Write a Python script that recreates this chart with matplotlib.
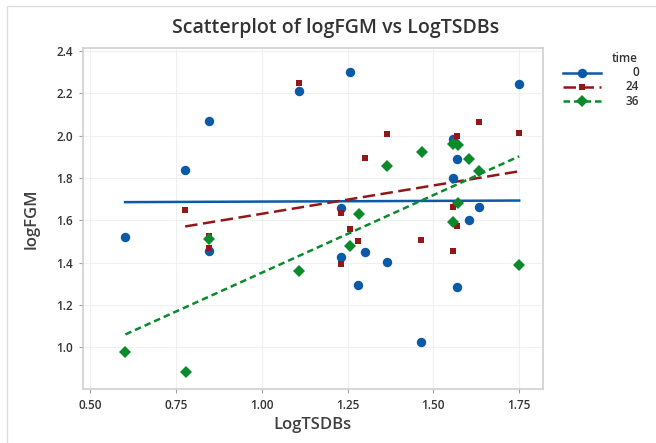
import numpy as np
import matplotlib
matplotlib.use("Agg")
import matplotlib.pyplot as plt
from matplotlib.lines import Line2D
from matplotlib.ticker import FormatStrFormatter

plt.rcParams['font.family'] = ['Open Sans', 'DejaVu Sans']

# time = 0
x0 = [0.602, 0.777, 0.845, 0.845, 1.11, 1.23, 1.23, 1.257, 1.28, 1.30,
      1.364, 1.464, 1.556, 1.556, 1.57, 1.57, 1.603, 1.633, 1.75]
y0 = [1.523, 1.838, 2.070, 1.454, 2.212, 1.657, 1.427, 2.300, 1.296, 1.449,
      1.405, 1.025, 1.985, 1.800, 1.892, 1.285, 1.600, 1.665, 2.245]
# time = 24
x24 = [0.777, 0.845, 0.845, 1.11, 1.23, 1.23, 1.257, 1.28, 1.30, 1.364,
       1.464, 1.556, 1.556, 1.57, 1.57, 1.633, 1.75]
y24 = [1.648, 1.528, 1.471, 2.248, 1.634, 1.394, 1.558, 1.503, 1.894, 2.007,
       1.507, 1.665, 1.454, 2.000, 1.574, 2.065, 2.012]
# time = 36
x36 = [0.603, 0.779, 0.845, 1.11, 1.258, 1.282, 1.364, 1.466, 1.558, 1.558,
       1.572, 1.572, 1.604, 1.633, 1.75]
y36 = [0.978, 0.882, 1.511, 1.359, 1.478, 1.630, 1.857, 1.922, 1.961, 1.591,
       1.958, 1.684, 1.890, 1.832, 1.391]

groups = ['0', '24', '36']
colors = ['#0a5aa8', '#941717', '#0b8a2c']
markers = ['o', 's', 'D']
msizes = [6.8, 4.8, 6.2]
styles = ['-', (0, (5, 2.2)), (0, (2.6, 1.6))]

fig = plt.figure(figsize=(6.56, 4.43), dpi=100)
ax = fig.add_axes([0.1258, 0.1219, 0.827 - 0.1258, 0.8916 - 0.1219])

series = [(x0, y0), (x24, y24), (x36, y36)]
for (xs, ys), c, m, ms, ls in zip(series, colors, markers, msizes, styles):
    xs = np.array(xs)
    ys = np.array(ys)
    ax.plot(xs, ys, linestyle='none', marker=m, color=c, markersize=ms,
            markeredgewidth=0, zorder=3)
    b, a = np.polyfit(xs, ys, 1)
    xl = np.array([xs.min(), xs.max()])
    ax.plot(xl, a + b * xl, color=c, linestyle=ls, linewidth=1.8, zorder=2)

ax.set_xlim(0.478, 1.818)
ax.set_ylim(0.803, 2.415)
ax.set_xticks([0.5, 0.75, 1.0, 1.25, 1.5, 1.75])
ax.set_yticks([1.0, 1.2, 1.4, 1.6, 1.8, 2.0, 2.2, 2.4])
ax.xaxis.set_major_formatter(FormatStrFormatter('%.2f'))
ax.yaxis.set_major_formatter(FormatStrFormatter('%.1f'))
ax.grid(True, color='#f0f0f0', linewidth=0.8, zorder=0)
for s in ax.spines.values():
    s.set_color('#cfcfcf')
    s.set_linewidth(1.2)
ax.tick_params(length=3, color='#a0a0a0', labelsize=8.5, labelcolor='#333333',
               pad=4)
for lab in ax.get_xticklabels() + ax.get_yticklabels():
    lab.set_fontweight('semibold')

ax.set_xlabel('LogTSDBs', fontsize=12, fontweight='semibold', color='#404040',
              labelpad=4)
ax.set_ylabel('logFGM', fontsize=12, fontweight='semibold', color='#404040',
              labelpad=12)

fig.text(336 / 656, 1 - 27.5 / 443, 'Scatterplot of logFGM vs LogTSDBs',
         ha='center', va='center', fontsize=14, color='#333333',
         fontweight='semibold')

# legend drawn by hand so labels are right-aligned
W, H = 656, 443
fig.text(625 / W, 1 - 58 / H, 'time', ha='center', va='center', fontsize=8.5,
         color='#333333', fontweight='semibold')
for i, (g, c, m, ms, ls) in enumerate(zip(groups, colors, markers, msizes, styles)):
    yy = 1 - (72.5 + 14.3 * i) / H
    fig.add_artist(Line2D([563 / W, 601 / W], [yy, yy], color=c, linestyle=ls,
                          linewidth=1.8, transform=fig.transFigure))
    fig.add_artist(Line2D([582 / W], [yy], color=c, marker=m, markersize=ms,
                          markeredgewidth=0, linestyle='none',
                          transform=fig.transFigure))
    fig.text(639 / W, yy, g, ha='right', va='center', fontsize=8.5,
             color='#333333', fontweight='semibold')

# faint border of the original picture
fig.add_artist(Line2D([7 / W, 7 / W, 1], [0, 1 - 6 / H, 1 - 6 / H],
                      color='#dddddd', linewidth=1, transform=fig.transFigure))

fig.savefig('out.png', dpi=100)
